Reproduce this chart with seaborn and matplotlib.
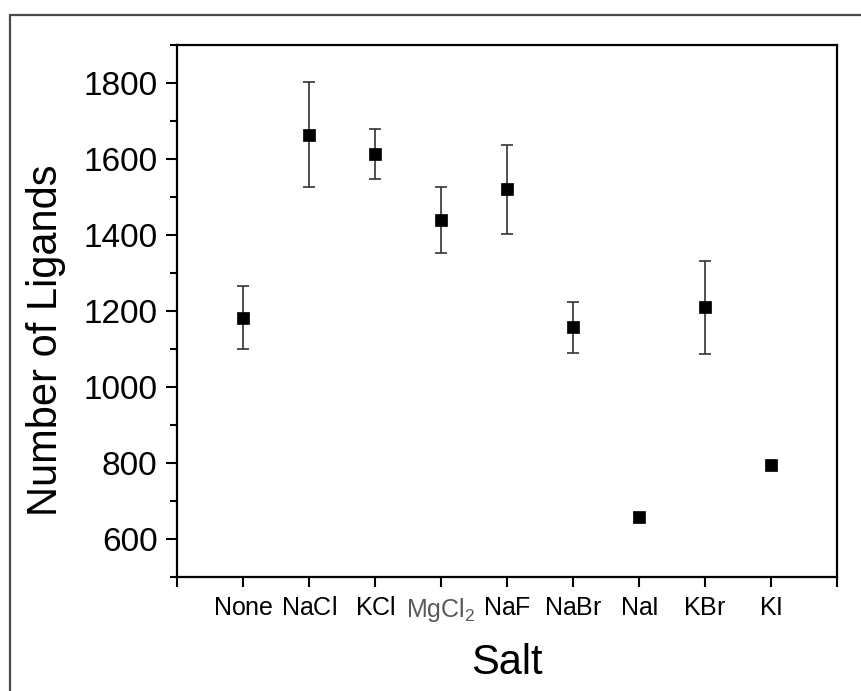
import matplotlib
matplotlib.use("Agg")
import matplotlib.pyplot as plt
from matplotlib.lines import Line2D
from matplotlib.ticker import MultipleLocator
import seaborn as sns
import pandas as pd

# Salt conditions and measured ligand counts (mean ± error)
salts = ["None", "NaCl", "KCl", "MgCl$_2$", "NaF", "NaBr", "NaI", "KBr", "KI"]
ligands = [1182, 1663, 1612, 1438, 1520, 1156, 657, 1209, 795]
errors = [82, 138, 65, 87, 117, 67, 12, 123, 0]

sns.set_theme(style="ticks")
plt.rcParams["font.family"] = ["Liberation Sans", "DejaVu Sans"]
plt.rcParams["mathtext.fontset"] = "custom"
plt.rcParams["mathtext.rm"] = "Liberation Sans"
plt.rcParams["mathtext.it"] = "Liberation Sans"
plt.rcParams["text.color"] = "black"
plt.rcParams["axes.labelcolor"] = "black"

positions = list(range(1, len(salts) + 1))
df = pd.DataFrame({"pos": positions, "salt": salts, "ligands": ligands, "err": errors})

fig = plt.figure(figsize=(8.61, 6.91), dpi=100, facecolor="white")
ax = fig.add_axes([177 / 861, 1 - 577 / 691, 660 / 861, (577 - 44.5) / 691])

has_err = df["err"] > 0
ax.errorbar(df.loc[has_err, "pos"], df.loc[has_err, "ligands"], yerr=df.loc[has_err, "err"],
            fmt="none", ecolor="#333333", elinewidth=1.2, capsize=4.3, capthick=1.2, zorder=2)
sns.scatterplot(data=df, x="pos", y="ligands", marker="s", s=64, color="black",
                edgecolor="black", linewidth=0.5, ax=ax, zorder=3)

ax.set_xlim(0, 10)
ax.set_ylim(500, 1900)
ax.set_xticks(range(0, 11))
tick_text = [""] + [r"$\mathregular{" + s.replace("$_2$", "}_{2}\\mathregular{") + "}$"
                    if "$" in s else r"$\mathregular{" + s + "}$" for s in salts] + [""]
ax.set_xticklabels(tick_text, fontsize=18)
for lbl, name in zip(ax.get_xticklabels(), [""] + salts + [""]):
    lbl.set_color("#5a5a5a" if "Mg" in name else "black")
ax.set_yticks(range(600, 1801, 200))
ax.yaxis.set_minor_locator(MultipleLocator(100))
ax.tick_params(axis="y", which="major", labelsize=24, length=8, width=1.5,
               direction="out", pad=6, colors="black")
ax.tick_params(axis="y", which="minor", length=5, width=1.5, direction="out",
               colors="black")
ax.tick_params(axis="x", which="major", length=7.5, width=1.5, direction="out",
               pad=6, color="black")
ax.tick_params(top=False, right=False)

for side in ["left", "right", "top", "bottom"]:
    ax.spines[side].set_visible(True)
    ax.spines[side].set_linewidth(1.6)
    ax.spines[side].set_color("black")

ax.set_xlabel("Salt", fontsize=30, labelpad=14)
ax.set_ylabel("Number of Ligands", fontsize=30)
ax.yaxis.set_label_coords(-0.168, 0.445)
ax.grid(False)

# Outer frame around the figure
frame_color = "#4a4a4a"
fig.add_artist(Line2D([10 / 861, 1.01], [1 - 15 / 691, 1 - 15 / 691],
                      transform=fig.transFigure, color=frame_color, lw=1.6))
fig.add_artist(Line2D([10 / 861, 10 / 861], [1 - 15 / 691, -0.01],
                      transform=fig.transFigure, color=frame_color, lw=1.6))

fig.savefig("out.png", dpi=100, facecolor="white")
